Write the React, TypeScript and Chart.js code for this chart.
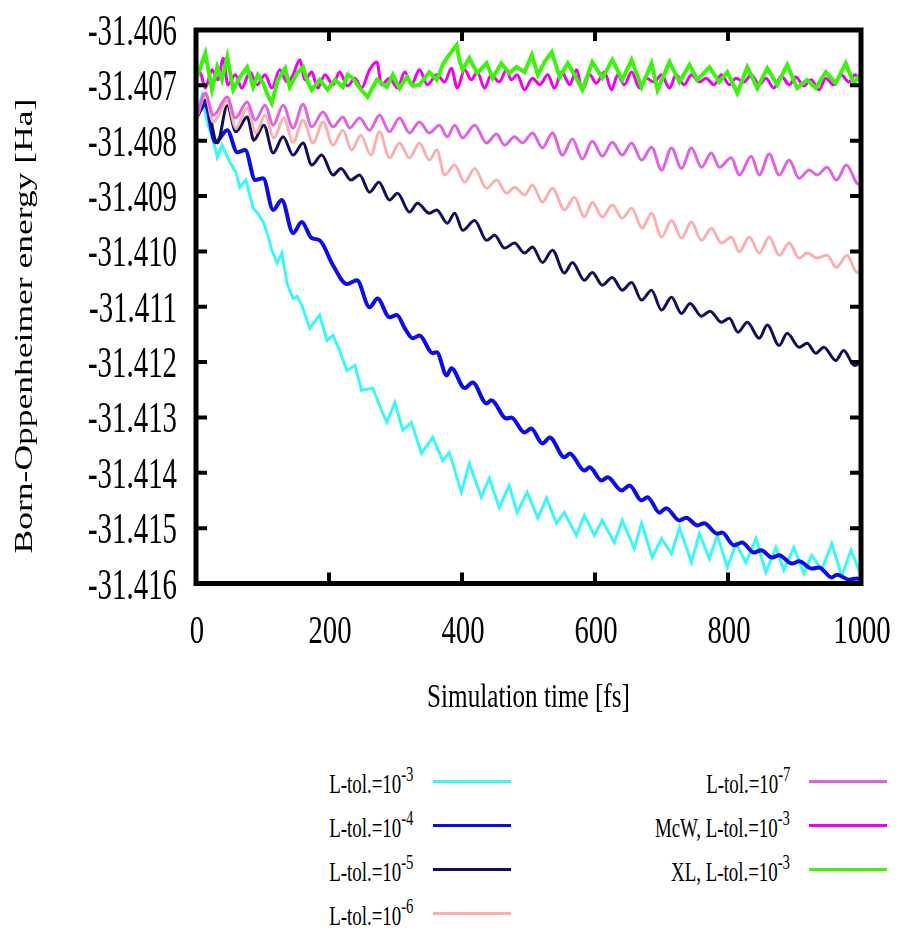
import React, { useEffect, useRef } from 'react';
import { Chart, registerables } from 'chart.js';

Chart.register(...registerables);

// ---------- axis ticks ----------
const X_TICKS = [0, 200, 400, 600, 800, 1000];
const X_TICK_LABELS = ['0', '200', '400', '600', '800', '1000'];
const Y_TICKS = [-31.406, -31.407, -31.408, -31.409, -31.41, -31.411, -31.412, -31.413, -31.414, -31.415, -31.416];
const Y_TICK_LABELS = ['-31.406', '-31.407', '-31.408', '-31.409', '-31.410', '-31.411', '-31.412', '-31.413', '-31.414', '-31.415', '-31.416'];
const X_TITLE = 'Simulation time [fs]';
const Y_TITLE = 'Born-Oppenheimer energy [Ha]';

// ---------- series: L-tol.=10^-3 ----------
const tol3T = [0, 9, 18, 26, 32, 39, 51, 60, 66, 75, 86, 93, 101, 108, 114, 122, 129, 137, 146, 152, 159, 171, 186, 197, 206, 216, 227, 239, 249, 266, 279, 287, 299, 311, 324, 339, 356, 371, 381, 399, 411, 429, 441, 456, 471, 483, 498, 514, 527, 542, 554, 572, 584, 599, 611, 629, 641, 659, 670, 686, 700, 715, 727, 745, 757, 772, 784, 799, 812, 827, 842, 857, 872, 884, 899, 914, 926, 941, 956, 971, 985, 997, 1000];
const tol3E = [-31.40760, -31.40719, -31.40772, -31.40799, -31.40830, -31.40808, -31.40839, -31.40857, -31.40884, -31.40871,
  -31.40922, -31.40931, -31.40947, -31.40971, -31.40998, -31.41021, -31.41003, -31.41058, -31.41085, -31.41081,
  -31.41097, -31.41139, -31.41115, -31.41161, -31.41152, -31.41179, -31.41215, -31.41206, -31.41251, -31.41247,
  -31.41287, -31.41309, -31.41273, -31.41323, -31.41309, -31.41365, -31.41336, -31.41378, -31.41363, -31.41435,
  -31.41383, -31.41444, -31.41410, -31.41463, -31.41423, -31.41472, -31.41435, -31.41482, -31.41446, -31.41491,
  -31.41472, -31.41513, -31.41477, -31.41513, -31.41486, -31.41526, -31.41486, -31.41537, -31.41491, -31.41553,
  -31.41519, -31.41546, -31.41499, -31.41562, -31.41510, -31.41555, -31.41513, -31.41571, -31.41528, -31.41562,
  -31.41519, -31.41580, -31.41535, -31.41576, -31.41535, -31.41582, -31.41549, -31.41576, -31.41528, -31.41586,
  -31.41540, -31.41576, -31.41558];

// ---------- series: L-tol.=10^-4 ----------
const tol4T = [0, 14, 29, 47, 62, 74, 89, 101, 116, 129, 146, 159, 174, 186, 206, 227, 242, 261, 273, 291, 302, 314, 326, 336, 356, 362, 377, 384, 404, 416, 437, 444, 467, 474, 494, 504, 521, 532, 554, 562, 584, 592, 610, 619, 640, 652, 670, 679, 697, 707, 727, 737, 754, 764, 784, 791, 809, 821, 839, 850, 866, 877, 896, 907, 926, 937, 956, 964, 982, 994, 1000];
const tol4E = [-31.40759, -31.40734, -31.40803, -31.40781, -31.40821, -31.40817, -31.40871, -31.40868, -31.40925, -31.40907,
  -31.40967, -31.40947, -31.40976, -31.40980, -31.41025, -31.41059, -31.41052, -31.41101, -31.41085, -31.41119,
  -31.41115, -31.41139, -31.41157, -31.41152, -31.41184, -31.41182, -31.41224, -31.41211, -31.41247, -31.41237,
  -31.41275, -31.41269, -31.41302, -31.41300, -31.41327, -31.41320, -31.41347, -31.41336, -31.41372, -31.41365,
  -31.41396, -31.41390, -31.41414, -31.41408, -31.41432, -31.41423, -31.41450, -31.41444, -31.41472, -31.41464,
  -31.41486, -31.41481, -31.41495, -31.41491, -31.41510, -31.41508, -31.41531, -31.41526, -31.41544, -31.41540,
  -31.41553, -31.41549, -31.41564, -31.41560, -31.41573, -31.41571, -31.41589, -31.41584, -31.41593, -31.41591,
  -31.41595];

// ---------- series: L-tol.=10^-5 ----------
const tol5T = [0, 14, 32, 47, 60, 77, 87, 102, 116, 131, 146, 161, 174, 189, 206, 218, 233, 246, 261, 275, 291, 303, 321, 333, 351, 362, 378, 389, 401, 419, 437, 449, 464, 479, 494, 506, 521, 536, 554, 566, 584, 596, 611, 626, 641, 655, 670, 685, 700, 715, 730, 743, 760, 773, 790, 802, 815, 829, 847, 859, 877, 889, 907, 919, 932, 944, 962, 974, 990, 1000];
const tol5E = [-31.40763, -31.40727, -31.40804, -31.40737, -31.40784, -31.40757, -31.40799, -31.40772, -31.40822, -31.40793,
  -31.40826, -31.40804, -31.40844, -31.40826, -31.40862, -31.40850, -31.40871, -31.40862, -31.40893, -31.40875,
  -31.40907, -31.40895, -31.40929, -31.40913, -31.40931, -31.40925, -31.40949, -31.40931, -31.40962, -31.40944,
  -31.40980, -31.40971, -31.40994, -31.40985, -31.41003, -31.40992, -31.41020, -31.40998, -31.41039, -31.41020,
  -31.41052, -31.41038, -31.41061, -31.41047, -31.41070, -31.41056, -31.41088, -31.41070, -31.41106, -31.41083,
  -31.41112, -31.41094, -31.41117, -31.41108, -31.41128, -31.41121, -31.41146, -31.41128, -31.41157, -31.41133,
  -31.41170, -31.41148, -31.41173, -31.41166, -31.41184, -31.41173, -31.41197, -31.41179, -31.41206, -31.41200];

// ---------- series: L-tol.=10^-6 ----------
const tol6T = [0, 14, 26, 47, 60, 77, 90, 104, 117, 132, 146, 161, 176, 191, 206, 221, 234, 248, 263, 276, 291, 306, 321, 336, 351, 362, 374, 389, 404, 419, 437, 452, 467, 479, 494, 506, 521, 536, 554, 569, 584, 596, 611, 626, 641, 655, 671, 685, 700, 715, 730, 745, 760, 775, 790, 805, 817, 832, 847, 862, 877, 892, 907, 919, 934, 949, 963, 979, 994, 1000];
const tol6E = [-31.40763, -31.40719, -31.40766, -31.40728, -31.40777, -31.40741, -31.40786, -31.40754, -31.40795, -31.40759,
  -31.40803, -31.40763, -31.40804, -31.40766, -31.40808, -31.40781, -31.40817, -31.40790, -31.40826, -31.40784,
  -31.40831, -31.40804, -31.40831, -31.40804, -31.40835, -31.40817, -31.40862, -31.40844, -31.40875, -31.40850,
  -31.40886, -31.40871, -31.40895, -31.40884, -31.40898, -31.40880, -31.40911, -31.40886, -31.40925, -31.40902,
  -31.40938, -31.40911, -31.40938, -31.40916, -31.40940, -31.40922, -31.40958, -31.40931, -31.40974, -31.40944,
  -31.40976, -31.40947, -31.40980, -31.40958, -31.40985, -31.40974, -31.41001, -31.40974, -31.41003, -31.40974,
  -31.41007, -31.40985, -31.41012, -31.41003, -31.41012, -31.41007, -31.41029, -31.41007, -31.41038, -31.41034];

// ---------- series: L-tol.=10^-7 ----------
const tol7T = [0, 14, 26, 47, 59, 77, 89, 104, 116, 131, 146, 161, 174, 191, 206, 221, 231, 246, 261, 276, 291, 306, 321, 336, 351, 366, 378, 389, 401, 419, 437, 452, 464, 479, 491, 506, 521, 536, 551, 566, 581, 596, 611, 626, 641, 655, 670, 685, 700, 715, 730, 745, 760, 775, 787, 805, 817, 835, 847, 862, 877, 892, 907, 922, 934, 949, 963, 978, 994, 1000];
const tol7E = [-31.40763, -31.40714, -31.40754, -31.40721, -31.40759, -31.40730, -31.40763, -31.40736, -31.40772, -31.40736,
  -31.40777, -31.40734, -31.40775, -31.40748, -31.40775, -31.40757, -31.40777, -31.40759, -31.40781, -31.40754,
  -31.40784, -31.40759, -31.40786, -31.40766, -31.40786, -31.40772, -31.40793, -31.40772, -31.40795, -31.40772,
  -31.40804, -31.40788, -31.40808, -31.40793, -31.40804, -31.40786, -31.40813, -31.40786, -31.40826, -31.40797,
  -31.40833, -31.40801, -31.40828, -31.40803, -31.40826, -31.40804, -31.40835, -31.40812, -31.40853, -31.40813,
  -31.40850, -31.40813, -31.40848, -31.40822, -31.40848, -31.40831, -31.40862, -31.40828, -31.40862, -31.40824,
  -31.40862, -31.40835, -31.40868, -31.40853, -31.40862, -31.40848, -31.40871, -31.40844, -31.40877, -31.40880];

// ---------- series: McW, L-tol.=10^-3 ----------
const mcwT = [0, 6, 14, 24, 33, 41, 48, 59, 69, 81, 92, 104, 114, 126, 137, 146, 156, 164, 174, 183, 194, 206, 216, 228, 239, 249, 261, 272, 279, 291, 303, 314, 324, 336, 348, 362, 374, 384, 393, 404, 414, 423, 434, 444, 456, 467, 474, 483, 494, 506, 517, 529, 539, 550, 562, 572, 581, 592, 602, 614, 625, 634, 644, 655, 667, 677, 689, 700, 712, 722, 734, 745, 757, 767, 779, 790, 802, 812, 824, 835, 847, 857, 869, 880, 892, 902, 914, 925, 937, 947, 959, 970, 982, 991, 1000];
const mcwE = [-31.40687, -31.40676, -31.40705, -31.40672, -31.40690, -31.40651, -31.40699, -31.40681, -31.40705, -31.40676,
  -31.40699, -31.40681, -31.40705, -31.40672, -31.40694, -31.40681, -31.40654, -31.40690, -31.40676, -31.40705,
  -31.40681, -31.40699, -31.40676, -31.40701, -31.40687, -31.40705, -31.40672, -31.40658, -31.40699, -31.40687,
  -31.40705, -31.40676, -31.40699, -31.40672, -31.40699, -31.40681, -31.40694, -31.40669, -31.40705, -31.40672,
  -31.40690, -31.40676, -31.40705, -31.40681, -31.40694, -31.40672, -31.40690, -31.40681, -31.40708, -31.40687,
  -31.40699, -31.40681, -31.40705, -31.40676, -31.40699, -31.40672, -31.40708, -31.40681, -31.40696, -31.40676,
  -31.40708, -31.40681, -31.40699, -31.40676, -31.40705, -31.40687, -31.40694, -31.40681, -31.40705, -31.40681,
  -31.40699, -31.40681, -31.40694, -31.40687, -31.40699, -31.40681, -31.40699, -31.40687, -31.40694, -31.40681,
  -31.40699, -31.40687, -31.40705, -31.40683, -31.40699, -31.40685, -31.40701, -31.40690, -31.40708, -31.40687,
  -31.40699, -31.40681, -31.40694, -31.40681, -31.40694];

// ---------- series: XL, L-tol.=10^-3 ----------
const xlT = [0, 14, 24, 32, 39, 47, 56, 66, 77, 86, 93, 101, 108, 114, 123, 134, 141, 152, 161, 168, 174, 186, 198, 209, 221, 228, 236, 246, 258, 272, 287, 296, 306, 317, 326, 336, 351, 362, 371, 377, 384, 392, 396, 401, 411, 423, 437, 446, 459, 471, 482, 494, 505, 514, 524, 535, 547, 559, 569, 581, 596, 611, 626, 641, 655, 670, 685, 694, 712, 727, 742, 754, 772, 787, 799, 814, 829, 844, 859, 874, 889, 904, 919, 932, 947, 962, 977, 989, 1000];
const xlE = [-31.40690, -31.40642, -31.40708, -31.40667, -31.40690, -31.40649, -31.40708, -31.40685, -31.40667, -31.40703,
  -31.40681, -31.40696, -31.40718, -31.40732, -31.40690, -31.40669, -31.40703, -31.40678, -31.40667, -31.40694,
  -31.40708, -31.40690, -31.40708, -31.40690, -31.40703, -31.40681, -31.40687, -31.40705, -31.40721, -31.40690,
  -31.40703, -31.40681, -31.40705, -31.40685, -31.40701, -31.40699, -31.40676, -31.40690, -31.40663, -31.40651,
  -31.40640, -31.40627, -31.40654, -31.40672, -31.40651, -31.40678, -31.40660, -31.40687, -31.40660, -31.40678,
  -31.40667, -31.40676, -31.40645, -31.40681, -31.40658, -31.40640, -31.40685, -31.40660, -31.40681, -31.40708,
  -31.40658, -31.40687, -31.40654, -31.40690, -31.40654, -31.40703, -31.40660, -31.40708, -31.40658, -31.40694,
  -31.40663, -31.40690, -31.40667, -31.40694, -31.40676, -31.40714, -31.40667, -31.40705, -31.40669, -31.40699,
  -31.40663, -31.40705, -31.40690, -31.40705, -31.40676, -31.40696, -31.40660, -31.40696, -31.40678];

// ---------- legend text ----------
const LEGEND_BASE = ['L-tol.=10', 'L-tol.=10', 'L-tol.=10', 'L-tol.=10', 'L-tol.=10', 'McW, L-tol.=10', 'XL, L-tol.=10'];
const LEGEND_EXP = ['-3', '-4', '-5', '-6', '-7', '-3', '-3'];

const SERIES = [
  { t: tol3T, e: tol3E, color: '#3ef6f6', width: 3, smooth: false },
  { t: tol4T, e: tol4E, color: '#0c0ce8', width: 4, smooth: true },
  { t: tol5T, e: tol5E, color: '#0f0f5e', width: 3, smooth: true },
  { t: tol6T, e: tol6E, color: '#fbb0b0', width: 3, smooth: true },
  { t: tol7T, e: tol7E, color: '#e064e0', width: 3, smooth: true },
  { t: mcwT, e: mcwE, color: '#f000f0', width: 3, smooth: true },
  { t: xlT, e: xlE, color: '#3ef10e', width: 4, smooth: false },
];

const FONT = '"Liberation Serif", "Times New Roman", serif';
const W = 882;
const CANVAS_H = 740;

function drawText(ctx: CanvasRenderingContext2D, text: string, x: number, y: number, size: number, sx: number, align: CanvasTextAlign) {
  ctx.save();
  ctx.translate(x, y);
  ctx.scale(sx, 1);
  ctx.font = `${size}px ${FONT}`;
  ctx.textAlign = align;
  ctx.textBaseline = 'alphabetic';
  ctx.fillStyle = '#000';
  ctx.fillText(text, 0, 0);
  ctx.restore();
}

const decorPlugin = {
  id: 'decor',
  afterDatasetsDraw(chart: any) {
    const ctx: CanvasRenderingContext2D = chart.ctx;
    const a = chart.chartArea;
    const xs = chart.scales.x;
    const ys = chart.scales.y;
    ctx.save();
    ctx.strokeStyle = '#000';
    ctx.lineWidth = 4;
    ctx.beginPath();
    X_TICKS.forEach((v) => {
      const x = xs.getPixelForValue(v);
      ctx.moveTo(x, a.bottom);
      ctx.lineTo(x, a.bottom - 11);
      ctx.moveTo(x, a.top);
      ctx.lineTo(x, a.top + 11);
    });
    Y_TICKS.forEach((v) => {
      const y = ys.getPixelForValue(v);
      ctx.moveTo(a.left, y);
      ctx.lineTo(a.left + 11, y);
      ctx.moveTo(a.right, y);
      ctx.lineTo(a.right - 11, y);
    });
    ctx.stroke();
    ctx.lineWidth = 5;
    ctx.strokeRect(a.left, a.top, a.right - a.left, a.bottom - a.top);
    ctx.restore();

    Y_TICKS.forEach((v, i) => {
      const y = ys.getPixelForValue(v);
      drawText(ctx, Y_TICK_LABELS[i], 169, y + 15, 44, 0.656, 'right');
    });
    X_TICKS.forEach((v, i) => {
      const x = xs.getPixelForValue(v);
      drawText(ctx, X_TICK_LABELS[i], x + 1, 635, 41, 0.7, 'center');
    });
    drawText(ctx, X_TITLE, (a.left + a.right) / 2, 699, 33, 0.763, 'center');

    ctx.save();
    ctx.translate(24, 318);
    ctx.scale(0.72, 1);
    ctx.rotate(-Math.PI / 2);
    ctx.font = `35.5px ${FONT}`;
    ctx.textAlign = 'center';
    ctx.textBaseline = 'alphabetic';
    ctx.fillStyle = '#000';
    ctx.fillText(Y_TITLE, 0, 0);
    ctx.restore();
  },
};

export default function App() {
  const ref = useRef<HTMLCanvasElement>(null);
  useEffect(() => {
    if (!ref.current) return;
    const chart = new Chart(ref.current, {
      type: 'line',
      data: {
        datasets: SERIES.map((s, i) => ({
          label: LEGEND_BASE[i] + '^' + LEGEND_EXP[i],
          data: s.t.map((t, k) => ({ x: t, y: s.e[k] })),
          borderColor: s.color,
          backgroundColor: s.color,
          borderWidth: s.width,
          pointRadius: 0,
          fill: false,
          tension: s.smooth ? 0.4 : 0,
          cubicInterpolationMode: s.smooth ? 'monotone' : 'default',
          order: SERIES.length - i,
        })) as any,
      },
      options: {
        animation: false,
        responsive: false,
        devicePixelRatio: 1,
        events: [],
        layout: { padding: { left: 188, top: 22, right: 29, bottom: 164.5 } },
        plugins: { legend: { display: false }, tooltip: { enabled: false }, title: { display: false } },
        scales: {
          x: { type: 'linear', min: 0, max: 1000, display: false },
          y: { type: 'linear', min: -31.416, max: -31.406, display: false },
        },
      },
      plugins: [decorPlugin],
    });
    return () => chart.destroy();
  }, []);

  const textRight = [405, 782];
  const lineLeft = [425, 801];

  return (
    <div style={{ position: 'relative', width: W, height: 923, overflow: 'hidden' }}>
      <canvas ref={ref} width={W} height={CANVAS_H} style={{ position: 'absolute', left: 0, top: 0, width: W, height: CANVAS_H }} />
      {SERIES.map((s, i) => {
        const col = i < 4 ? 0 : 1;
        const row = i < 4 ? i : i - 4;
        return (
          <React.Fragment key={i}>
            <div
              style={{
                position: 'absolute',
                right: W - textRight[col],
                top: 762.5 + 44 * row,
                fontFamily: FONT,
                fontSize: 27,
                lineHeight: '27px',
                whiteSpace: 'nowrap',
                color: '#000',
                transform: 'scaleX(0.7)',
                transformOrigin: 'right center',
              }}
            >
              {LEGEND_BASE[i]}
              <span style={{ fontSize: 21, position: 'relative', top: -12, lineHeight: '21px' }}>{LEGEND_EXP[i]}</span>
            </div>
            <div
              style={{
                position: 'absolute',
                left: lineLeft[col],
                top: 771.5 + 44 * row,
                width: 78,
                height: 3,
                background: s.color,
              }}
            />
          </React.Fragment>
        );
      })}
    </div>
  );
}
